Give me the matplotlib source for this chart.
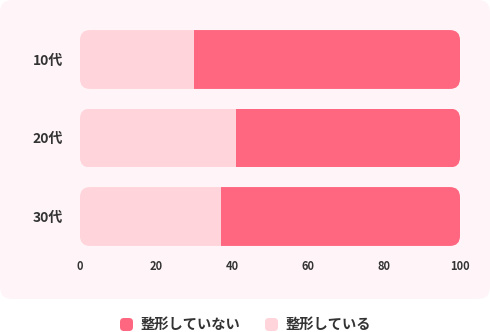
import matplotlib.pyplot as plt
from matplotlib.patches import FancyBboxPatch
import numpy as np

plt.rcParams['font.family'] = ['Noto Sans CJK JP', 'DejaVu Sans']

# data
ages = ["10代", "20代", "30代"]
doing = [30, 41, 37]          # 整形している
not_doing = [70, 59, 63]      # 整形していない
xticks = [0, 20, 40, 60, 80, 100]

C_DARK = "#ff6680"
C_LIGHT = "#ffd4da"
C_PANEL = "#fff5f8"
C_TEXT = "#333333"

W, H = 490, 332
fig = plt.figure(figsize=(W / 100, H / 100), dpi=100)
fig.patch.set_facecolor("white")

# rounded background panel
panel = FancyBboxPatch((0.0, 33 / H), 1.0, 1 - 33 / H,
                       boxstyle="round,pad=0,rounding_size=0.025",
                       mutation_aspect=W / H,
                       transform=fig.transFigure, facecolor=C_PANEL,
                       edgecolor="none", zorder=-5)
fig.patches.append(panel)

# axes geometry in pixels
x0, x1 = 80, 460
px_per_cat = 78.5
top = 20.25
ax_h = 3 * px_per_cat
ax = fig.add_axes([x0 / W, (H - top - ax_h) / H, (x1 - x0) / W, ax_h / H])
ax.set_facecolor("none")
ax.set_zorder(2)

y = np.arange(len(ages))
bar_h = 0.75
b1 = ax.barh(y, doing, height=bar_h, color=C_LIGHT, zorder=2)
b2 = ax.barh(y, not_doing, left=doing, height=bar_h, color=C_DARK, zorder=2)

ax.set_xlim(0, 100)
ax.set_ylim(len(ages) - 0.5, -0.5)

# round the ends of each full bar by clipping
r_px = 10
xs = 100 / (x1 - x0)
ys = 1 / px_per_cat
for i in range(len(ages)):
    clip = FancyBboxPatch((0, y[i] - bar_h / 2), 100, bar_h,
                          boxstyle=f"round,pad=0,rounding_size={r_px * xs}",
                          mutation_aspect=ys / xs, transform=ax.transData)
    b1[i].set_clip_path(clip)
    b2[i].set_clip_path(clip)

for s in ax.spines.values():
    s.set_visible(False)
ax.set_xticks(xticks)
ax.set_xticklabels([str(t) for t in xticks])
ax.set_yticks(y)
ax.set_yticklabels(ages)
ax.tick_params(axis="x", length=0, pad=3, labelsize=8, labelcolor=C_TEXT)
ax.tick_params(axis="y", length=0, pad=12, labelsize=10, labelcolor=C_TEXT)
for lab in ax.get_xticklabels() + ax.get_yticklabels():
    lab.set_fontweight("bold")

# legend
legend_items = [("整形していない", C_DARK, 120), ("整形している", C_LIGHT, 265)]
for text, col, px in legend_items:
    sq = FancyBboxPatch((px / W, (H - 331) / H), 13 / W, 13 / H,
                        boxstyle="round,pad=0,rounding_size=0.008",
                        mutation_aspect=W / H, transform=fig.transFigure,
                        facecolor=col, edgecolor="none")
    fig.patches.append(sq)
    fig.text((px + 21) / W, (H - 324.5) / H, text, fontsize=10.3,
             fontweight="bold", color=C_TEXT, va="center", ha="left")

fig.savefig("out.png", dpi=100)
